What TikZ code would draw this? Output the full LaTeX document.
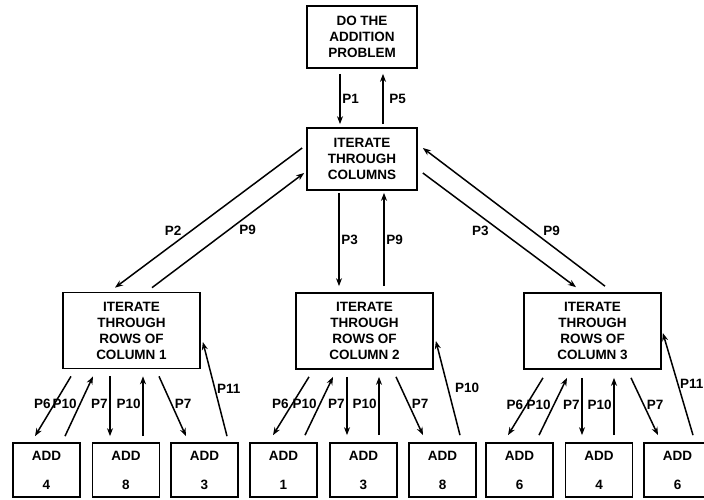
\documentclass[tikz,border=0pt]{standalone}
\usepackage{fontspec}
\setmainfont{Liberation Sans}
\usepackage{tikz}
\usetikzlibrary{calc,arrows.meta}
\tikzset{
	box/.style={draw=black,line width=1.7pt,fill=white,align=center,inner sep=2pt,
		font=\fontsize{13.5}{16}\selectfont\bfseries},
	topbox/.style={box,minimum width=110pt,minimum height=62pt},
	rowbox/.style={box,minimum width=137pt,minimum height=76pt},
	addbox/.style={box,minimum width=67pt,minimum height=54pt},
	flow/.style={draw=black,line width=1.5pt,-{Stealth[length=8pt,width=6pt]}},
	plab/.style={font=\fontsize{13.5}{16}\selectfont\bfseries,inner sep=1.5pt},
}

\begin{document}
\begin{tikzpicture}[x=1pt,y=-1pt]
			\path[use as bounding box,clip] (0,0) rectangle (704,499);
			% top of the tree
			\node[topbox] (top) at (362,37) {DO THE\\ADDITION\\PROBLEM};
			\node[topbox] (cols) at (362,159) {ITERATE\\THROUGH\\COLUMNS};
			% one box per column
			\node[rowbox] (r1) at (131.5,330.5) {ITERATE\\THROUGH\\ROWS OF\\COLUMN 1};
			\node[rowbox] (r2) at (364.5,331) {ITERATE\\THROUGH\\ROWS OF\\COLUMN 2};
			\node[rowbox] (r3) at (592.5,331) {ITERATE\\THROUGH\\ROWS OF\\COLUMN 3};
			% the additions
			\node[addbox] (a1) at (46.5,470) {ADD\\[13pt]4};
			\node[addbox] (a2) at (126,470) {ADD\\[13pt]8};
			\node[addbox] (a3) at (204.5,470) {ADD\\[13pt]3};
			\node[addbox] (b1) at (283.5,470) {ADD\\[13pt]1};
			\node[addbox] (b2) at (363.5,470) {ADD\\[13pt]3};
			\node[addbox] (b3) at (442.5,470) {ADD\\[13pt]8};
			\node[addbox] (c1) at (519.5,470) {ADD\\[13pt]6};
			\node[addbox] (c2) at (599,470) {ADD\\[13pt]4};
			\node[addbox] (c3) at (677.5,470) {ADD\\[13pt]6};
			% top and columns
			\draw[flow] ($(top.south)+(-22,5)$) -- node[plab,right] {P1} ($(cols.north)+(-22,-3)$);
			\draw[flow] ($(cols.north)+(21,-3)$) -- node[plab,right=4pt] {P5} ($(top.south)+(21,5)$);
			% columns and rows
			\draw[flow] ($(cols.west)+(-4,-11)$) -- node[plab,pos=0.59,left=8pt] {P2} ($(r1.north)+(-16.5,-4)$);
			\draw[flow] ($(r1.north)+(20.5,-4)$) -- node[plab,midway,right=9pt] {P9} ($(cols.west)+(-2,14)$);
			\draw[flow] ($(cols.south)+(-23,2)$) -- node[plab,right] {P3} ($(r2.north)+(-25.5,-6)$);
			\draw[flow] ($(r2.north)+(19.5,-6)$) -- node[plab,right] {P9} ($(cols.south)+(22,2)$);
			\draw[flow] ($(cols.east)+(5,14)$) -- node[plab,pos=0.51,left=10pt] {P3} ($(r3.north)+(-16.5,-5)$);
			\draw[flow] ($(r3.north)+(12.5,-6)$) -- node[plab,pos=0.4,right=9pt] {P9} ($(cols.east)+(5,-11)$);
			% column 1
			\draw[flow] ($(r1.south)+(-60.5,7)$) -- node[plab,left,yshift=2pt] {P6} ($(a1.north)+(-11.5,-6)$);
			\draw[flow] ($(a1.north)+(18.5,-6)$) -- node[plab,left,yshift=2pt] {P10} ($(r1.south)+(-38.5,7)$);
			\draw[flow] ($(r1.south)+(-21.5,7)$) -- node[plab,left,yshift=2pt] {P7} ($(a2.north)+(-16,-6)$);
			\draw[flow] ($(a2.north)+(17,-6)$) -- node[plab,left,yshift=2pt] {P10} ($(r1.south)+(11.5,7)$);
			\draw[flow] ($(r1.south)+(27.5,7)$) -- node[plab,right,yshift=2pt] {P7} ($(a3.north)+(-18.5,-6)$);
			\draw[flow] ($(a3.north)+(22.5,-6)$) -- node[plab,right] {P11} ($(r1.east)+(2,11.5)$);
			% column 2
			\draw[flow] ($(r2.south)+(-55.5,7)$) -- node[plab,left,yshift=2pt] {P6} ($(b1.north)+(-10.5,-7)$);
			\draw[flow] ($(b1.north)+(21.5,-7)$) -- node[plab,left,yshift=2pt] {P10} ($(r2.south)+(-31.5,7)$);
			\draw[flow] ($(r2.south)+(-17.5,7)$) -- node[plab,left,yshift=2pt] {P7} ($(b2.north)+(-16.5,-7)$);
			\draw[flow] ($(b2.north)+(15.5,-7)$) -- node[plab,left,yshift=2pt] {P10} ($(r2.south)+(14.5,7)$);
			\draw[flow] ($(r2.south)+(31.5,7)$) -- node[plab,right,yshift=2pt] {P7} ($(b3.north)+(-19.5,-7)$);
			\draw[flow] ($(b3.north)+(17.5,-7)$) -- node[plab,right=5pt] {P10} ($(r2.east)+(2,10)$);
			% column 3
			\draw[flow] ($(r3.south)+(-49.5,8)$) -- node[plab,left,yshift=2pt] {P6} ($(c1.north)+(-11.5,-7)$);
			\draw[flow] ($(c1.north)+(19.5,-7)$) -- node[plab,left,yshift=2pt] {P10} ($(r3.south)+(-25.5,8)$);
			\draw[flow] ($(r3.south)+(-10.5,8)$) -- node[plab,left,yshift=2pt] {P7} ($(c2.north)+(-17,-7)$);
			\draw[flow] ($(c2.north)+(15,-7)$) -- node[plab,left,yshift=2pt] {P10} ($(r3.south)+(21.5,8)$);
			\draw[flow] ($(r3.south)+(38.5,8)$) -- node[plab,right,yshift=2pt] {P7} ($(c3.north)+(-19.5,-7)$);
			\draw[flow] ($(c3.north)+(15.5,-7)$) -- node[plab,right=0pt] {P11} ($(r3.east)+(1,2)$);
		\end{tikzpicture}
\end{document}
